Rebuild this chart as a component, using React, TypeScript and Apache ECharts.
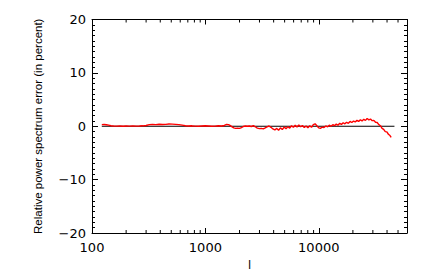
import React, { useEffect, useRef } from "react";
import * as echarts from "echarts";

const xMajorLabels = [100, 1000, 10000];
const xMinorTicks = [
  200, 300, 400, 500, 600, 700, 800, 900,
  2000, 3000, 4000, 5000, 6000, 7000, 8000, 9000,
  20000, 30000, 40000, 50000,
];
const zeroLine = [
  [122, 0],
  [46500, 0],
];
const errorSeries = [
  [122, 0.3], [128, 0.32], [134, 0.28], [140, 0.2], [147, 0.1], [155, 0.05], [165, 0.02],
  [176, 0.05], [188, 0.0], [200, 0.04], [214, 0.02], [229, 0.06], [245, 0.03], [262, 0.05],
  [280, 0.08], [300, 0.15], [320, 0.3], [342, 0.35], [366, 0.3], [391, 0.38], [418, 0.32],
  [447, 0.36], [478, 0.42], [511, 0.4], [546, 0.35], [584, 0.3], [624, 0.2], [667, 0.1],
  [713, 0.05], [762, 0.08], [815, 0.03], [871, 0.0], [931, 0.05], [995, 0.1], [1064, 0.05],
  [1137, 0.0], [1216, 0.02], [1300, 0.1], [1390, 0.05], [1470, 0.15], [1540, 0.35], [1600, 0.3],
  [1660, 0.1], [1720, -0.1], [1780, -0.3], [1850, -0.4], [1920, -0.35], [2000, -0.4], [2080, -0.25],
  [2160, -0.05], [2250, 0.05], [2340, 0.0], [2440, 0.05], [2540, -0.05], [2650, 0.1], [2760, -0.1],
  [2870, -0.35], [2990, -0.45], [3110, -0.4], [3240, -0.5], [3370, -0.3], [3500, -0.1], [3640, 0.05],
  [3790, -0.2], [3940, -0.5], [4100, -0.7], [4260, -0.4], [4420, -0.75], [4590, -0.3], [4770, -0.6],
  [4950, -0.15], [5140, -0.45], [5340, -0.1], [5540, -0.35], [5750, 0.1], [5970, -0.2], [6200, 0.2],
  [6430, -0.15], [6670, 0.25], [6920, -0.1], [7180, 0.15], [7450, -0.25], [7730, 0.05], [8020, -0.3],
  [8320, 0.1], [8630, -0.2], [8950, 0.3], [9280, 0.45], [9620, 0.1], [9980, -0.3], [10350, -0.4],
  [10730, -0.15], [11120, -0.25], [11530, 0.05], [11950, -0.1], [12380, 0.2], [12830, 0.0],
  [13290, 0.3], [13770, 0.1], [14260, 0.4], [14770, 0.2], [15300, 0.55], [15850, 0.35], [16420, 0.65],
  [17000, 0.45], [17600, 0.75], [18230, 0.55], [18880, 0.9], [19550, 0.7], [20250, 0.95], [20970, 0.8],
  [21710, 1.1], [22480, 0.9], [23270, 1.2], [24090, 1.0], [24930, 1.3], [25810, 1.1], [26710, 1.45],
  [27640, 1.2], [28600, 1.35], [29590, 1.05], [30610, 1.1], [31660, 0.75], [32740, 0.7], [33850, 0.3],
  [34990, 0.1], [36160, -0.4], [37360, -0.6], [38590, -1.0], [39850, -1.05], [41140, -1.5],
  [42460, -1.75], [43500, -2.1],
];

const yTitle = "Relative power spectrum error (in percent)";
const xTitle = "l";

export default function App() {
  const ref = useRef<HTMLDivElement>(null);
  useEffect(() => {
    if (!ref.current) return;
    const chart = echarts.init(ref.current, null, { renderer: "svg" });
    const axisLine = { show: true, onZero: false, lineStyle: { color: "#000", width: 1 } };
    const tickFont = { fontFamily: "DejaVu Sans", fontSize: 13, color: "#000" };
    const xAxisCommon: any = {
      type: "log",
      logBase: 10,
      min: 100,
      max: 60000,
      axisLine,
      splitLine: { show: false },
      axisTick: { show: true, inside: true, length: 5, lineStyle: { color: "#000" } },
    };
    const yAxisCommon: any = {
      type: "value",
      min: -20,
      max: 20,
      interval: 10,
      axisLine,
      splitLine: { show: false },
      axisTick: { show: true, inside: true, length: 6, lineStyle: { color: "#000" } },
      minorTick: { show: true, splitNumber: 10, length: 3, lineStyle: { color: "#000" } },
    };
    chart.setOption({
      animation: false,
      grid: {
        left: 84,
        right: 21,
        top: 11.5,
        bottom: 40,
        containLabel: false,
        outerBoundsMode: "none",
      },
      xAxis: [
        {
          ...xAxisCommon,
          position: "bottom",
          name: xTitle,
          nameLocation: "middle",
          nameGap: 22,
          nameTextStyle: { fontFamily: "Liberation Sans", fontSize: 12, color: "#000" },
          axisLabel: {
            ...tickFont,
            margin: 8,
            showMaxLabel: false,
            formatter: (v: number) =>
              xMajorLabels.some((m) => Math.abs(m - v) < 1e-6 * m) ? String(Math.round(v)) : "",
          },
        },
        { ...xAxisCommon, position: "top", axisLabel: { show: false } },
      ],
      yAxis: [
        {
          ...yAxisCommon,
          position: "left",
          name: yTitle,
          nameLocation: "middle",
          nameRotate: 90,
          nameGap: 48,
          nameTextStyle: { fontFamily: "Liberation Sans", fontSize: 11.5, color: "#000" },
          axisLabel: {
            ...tickFont,
            margin: 6,
            formatter: (v: number) => (v < 0 ? "\u2212" + Math.abs(v) : String(v)),
          },
        },
        { ...yAxisCommon, position: "right", axisLabel: { show: false } },
      ],
      series: [
        {
          type: "custom",
          xAxisIndex: 0,
          yAxisIndex: 0,
          silent: true,
          data: xMinorTicks.map((t) => [t, 0]),
          renderItem: (params: any, api: any) => {
            const v = api.value(0);
            const b = api.coord([v, -20]);
            const t = api.coord([v, 20]);
            const st = { stroke: "#000", lineWidth: 1 };
            return {
              type: "group",
              children: [
                { type: "line", shape: { x1: b[0], y1: b[1], x2: b[0], y2: b[1] - 3 }, style: st },
                { type: "line", shape: { x1: t[0], y1: t[1], x2: t[0], y2: t[1] + 3 }, style: st },
              ],
            };
          },
        },
        {
          type: "line",
          data: zeroLine,
          symbol: "none",
          lineStyle: { color: "#000", width: 1.2 },
          silent: true,
        },
        {
          type: "line",
          data: errorSeries,
          symbol: "none",
          lineStyle: { color: "#ff0000", width: 1.4 },
          silent: true,
        },
      ],
    });
    return () => chart.dispose();
  }, []);
  return <div ref={ref} style={{ width: 420, height: 265 }} />;
}
